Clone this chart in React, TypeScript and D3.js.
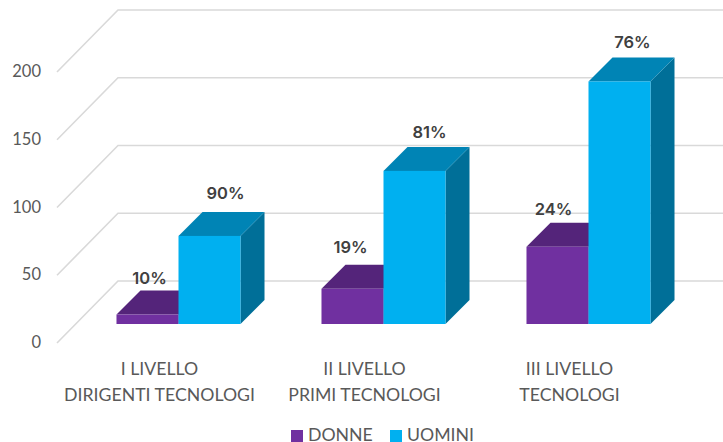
import { useEffect, useRef } from "react";
import * as d3 from "d3";

const categories = ["I LIVELLO|DIRIGENTI TECNOLOGI", "II LIVELLO|PRIMI TECNOLOGI", "III LIVELLO|TECNOLOGI"];
const seriesNames = ["DONNE", "UOMINI"];
const donne = [7, 26, 57];
const uomini = [65, 113, 179];
const donneLabels = ["10%", "19%", "24%"];
const uominiLabels = ["90%", "81%", "76%"];
const yTicks = [0, 50, 100, 150, 200];

const W = 723;
const H = 442;
const depth = 62; // full floor depth in px
const barNear = 19; // bar front, measured from the front of the floor
const barFar = 43; // bar back

const FONT = "Lato, 'Open Sans', sans-serif";

const App = () => {
  const ref = useRef<SVGSVGElement>(null);

  useEffect(() => {
    const svg = d3.select(ref.current);
    svg.selectAll("*").remove();

    const y = d3.scaleLinear().domain([0, 200]).range([343, 72]);
    const x0 = d3.scaleBand().domain(categories).range([57, 672]).paddingInner(0.395).paddingOuter(0.1975);
    const x1 = d3.scaleBand().domain(seriesNames).range([0, x0.bandwidth()]);
    const wall = 57 + depth - 1;

    // gridlines: diagonal on the side wall, then along the back wall
    svg
      .append("g")
      .selectAll("path")
      .data(yTicks)
      .join("path")
      .attr("d", (d) => `M57,${y(d)}L${wall},${y(d) - depth}L${W},${y(d) - depth}`)
      .attr("fill", "none")
      .attr("stroke", "#d9d9d9")
      .attr("stroke-width", 1.6);

    svg
      .append("g")
      .selectAll("text")
      .data(yTicks)
      .join("text")
      .attr("x", 41)
      .attr("y", (d) => y(d) + 5)
      .attr("text-anchor", "end")
      .attr("font-family", FONT)
      .attr("font-size", 16.5)
      .attr("fill", "#595959")
      .text((d) => d);

    const drawBars = (
      name: string,
      values: number[],
      front: string,
      top: string,
      side: string
    ) => {
      const g = svg.append("g");
      values.forEach((v, i) => {
        const left = x0(categories[i])! + x1(name)! + barNear;
        const right = left + x1.bandwidth();
        const bottom = y(0) - barNear;
        const h = y(0) - y(v);
        const t = bottom - h;
        const d = barFar - barNear;
        g.append("path")
          .attr("d", `M${right},${t}L${right + d},${t - d}L${right + d},${bottom - d}L${right},${bottom}Z`)
          .attr("fill", side);
        g.append("path")
          .attr("d", `M${left},${t}L${left + d},${t - d}L${right + d},${t - d}L${right},${t}Z`)
          .attr("fill", top);
        g.append("rect")
          .attr("x", left)
          .attr("y", t)
          .attr("width", x1.bandwidth())
          .attr("height", h)
          .attr("fill", front);
      });
    };

    drawBars("DONNE", donne, "#7030a0", "#54247a", "#54247a");
    drawBars("UOMINI", uomini, "#00b0f0", "#0084b5", "#006f98");

    // data labels were hand placed in the original, so each has its own nudge
    const drawLabels = (
      name: string,
      values: number[],
      labels: string[],
      nudgeX: number[],
      nudgeY: number[]
    ) => {
      svg
        .append("g")
        .selectAll("text")
        .data(values)
        .join("text")
        .attr("x", (_, i) => x0(categories[i])! + x1(name)! + barNear + x1.bandwidth() / 2 + nudgeX[i])
        .attr("y", (d, i) => y(d) - barNear - (barFar - barNear) - nudgeY[i])
        .attr("text-anchor", "middle")
        .attr("font-family", "Inter, sans-serif")
        .attr("font-weight", 600)
        .attr("font-size", 16.5)
        .attr("fill", "#404040")
        .text((_, i) => labels[i]);
    };

    drawLabels("DONNE", donne, donneLabels, [2, -2, -4], [7, 12, 8]);
    drawLabels("UOMINI", uomini, uominiLabels, [16, 15, 13], [13, 9, 9]);

    // category labels, two lines each
    const cat = svg
      .append("g")
      .selectAll("text")
      .data(categories)
      .join("text")
      .attr("text-anchor", "middle")
      .attr("font-family", FONT)
      .attr("font-size", 17.7)
      .attr("fill", "#595959");
    cat.each(function (d) {
      const cx = x0(d)! + x0.bandwidth() / 2;
      d.split("|").forEach((line, i) => {
        d3.select(this)
          .append("tspan")
          .attr("x", cx)
          .attr("y", 375 + i * 25.5)
          .text(line);
      });
    });

    // legend
    const legendX = [291, 390];
    const legendColors = ["#7030a0", "#00b0f0"];
    const legend = svg
      .append("g")
      .selectAll("g")
      .data(seriesNames)
      .join("g")
      .attr("transform", (_, i) => `translate(${legendX[i]},0)`);
    legend
      .append("rect")
      .attr("y", 430)
      .attr("width", 12)
      .attr("height", 12)
      .attr("fill", (_, i) => legendColors[i]);
    legend
      .append("text")
      .attr("x", 17)
      .attr("y", 441)
      .attr("font-family", FONT)
      .attr("font-size", 17.7)
      .attr("fill", "#595959")
      .text((d) => d);
  });

  return (
    <svg
      ref={ref}
      width={W}
      height={H}
      style={{ position: "absolute", left: 0, top: 0, display: "block", background: "#fff" }}
    ></svg>
  );
};

export default App;
